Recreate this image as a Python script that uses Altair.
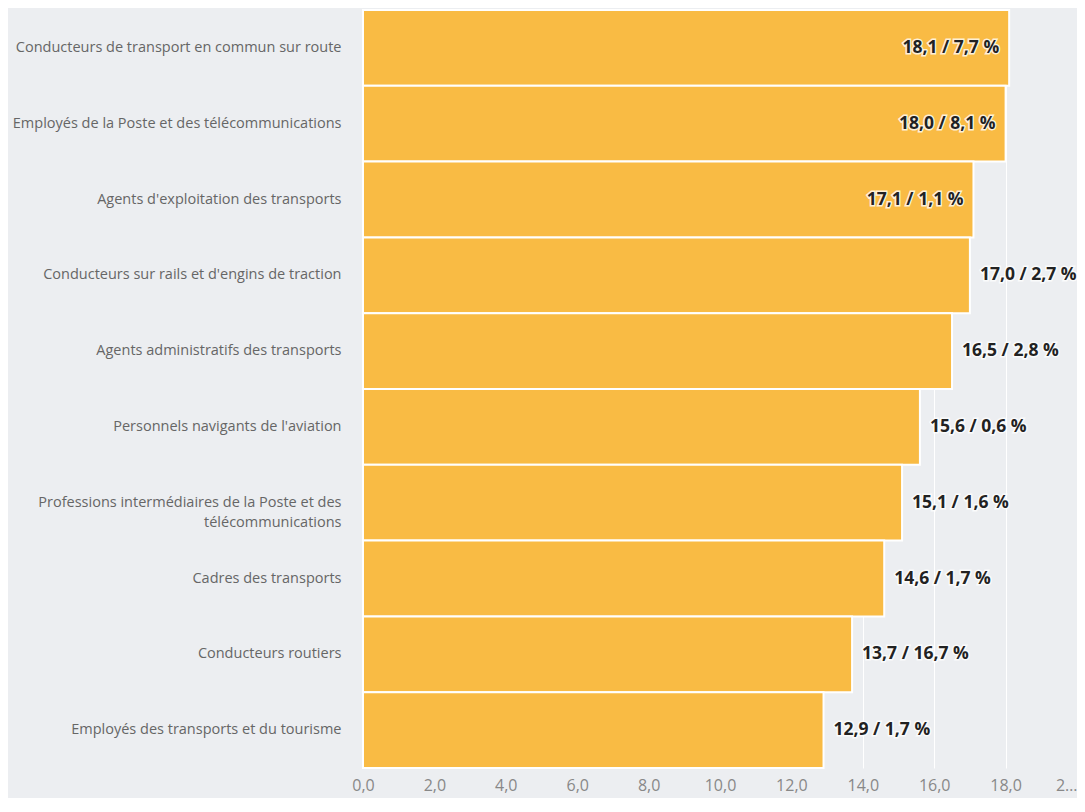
import altair as alt
import pandas as pd

categories = [
    "Conducteurs de transport en commun sur route",
    "Employés de la Poste et des télécommunications",
    "Agents d'exploitation des transports",
    "Conducteurs sur rails et d'engins de traction",
    "Agents administratifs des transports",
    "Personnels navigants de l'aviation",
    "Professions intermédiaires de la Poste et des|télécommunications",
    "Cadres des transports",
    "Conducteurs routiers",
    "Employés des transports et du tourisme",
]
values = [18.1, 18.0, 17.1, 17.0, 16.5, 15.6, 15.1, 14.6, 13.7, 12.9]
shares = [7.7, 8.1, 1.1, 2.7, 2.8, 0.6, 1.6, 1.7, 16.7, 1.7]
x_ticks = [0, 2, 4, 6, 8, 10, 12, 14, 16, 18, 20]


def fr(v):
    return f"{v:.1f}".replace(".", ",")


df = pd.DataFrame({
    "cat": categories,
    "value": values,
    "share": shares,
})
df["label"] = [f"{fr(v)} / {fr(s)} %" for v, s in zip(values, shares)]
df["inside"] = df["value"] >= 17.1

FONT = "Open Sans"

y_enc = alt.Y(
    "cat:N",
    sort=categories,
    title=None,
    scale=alt.Scale(paddingInner=0, paddingOuter=0),
    axis=alt.Axis(
        labelExpr="split(datum.label, '|')",
        labelFont=FONT,
        labelFontSize=14.5,
        labelColor="#666666",
        labelPadding=22,
        labelLimit=400,
        ticks=False,
        domain=True,
        domainColor="#ccd6eb",
        minExtent=355,
        maxExtent=355,
        labelLineHeight=20,
    ),
)

x_enc = alt.X(
    "value:Q",
    title=None,
    scale=alt.Scale(domain=[0, 20], nice=False),
    axis=alt.Axis(
        values=x_ticks,
        labelExpr="datum.value == 20 ? '2…' : replace(format(datum.value, '.1f'), '.', ',')",
        labelFont=FONT,
        labelFontSize=16,
        labelColor="#888888",
        labelPadding=9,
        labelAlign={"condition": {"test": "datum.value == 20", "value": "right"}, "value": "center"},
        ticks=False,
        domain=False,
        grid=True,
        gridColor="#ffffff",
        gridWidth=1,
    ),
)

base = alt.Chart(df)

bars = base.mark_bar(color="#f9bb44", stroke="#ffffff", strokeWidth=2).encode(
    x=x_enc, y=y_enc
)


def text_layer(inside, halo):
    props = dict(
        font=FONT,
        fontSize=17.5,
        fontWeight="bold",
        baseline="middle",
        align="right" if inside else "left",
        dx=-10 if inside else 10,
    )
    if halo:
        props.update(stroke="#ffffff", strokeWidth=3, strokeOpacity=0.8, fill="#ffffff")
    else:
        props.update(color="#222222")
    return base.transform_filter(
        alt.datum.inside if inside else ~alt.datum.inside
    ).mark_text(**props).encode(
        x="value:Q",
        y=alt.Y("cat:N", sort=categories),
        text="label:N",
    )


chart = alt.layer(
    bars,
    text_layer(True, True),
    text_layer(True, False),
    text_layer(False, True),
    text_layer(False, False),
).properties(
    width=714,
    height=758,
    background="#eceef1",
    padding={"left": 0, "top": 1, "right": 0, "bottom": 5},
).configure_view(stroke=None)

chart.save("out.html", embed_options={"renderer": "svg", "actions": False})
